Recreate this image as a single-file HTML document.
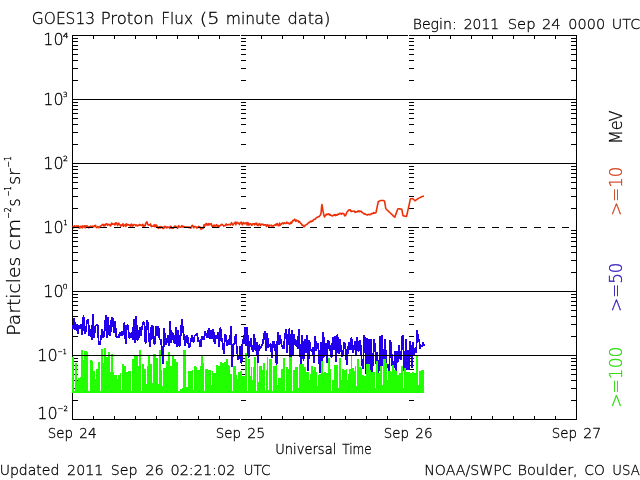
<!DOCTYPE html>
<html><head><meta charset="utf-8"><style>
html,body{margin:0;padding:0;background:#fff;width:640px;height:480px;overflow:hidden}
svg{display:block}
text{font-family:"DejaVu Sans","Liberation Sans",sans-serif;font-weight:200;fill:#000;stroke:#000;stroke-width:0.3px}
</style></head><body>
<svg width="640" height="480" viewBox="0 0 640 480">
<rect width="640" height="480" fill="#fff"/>
<path d="M72,35.5H240M241,35.5H408M409,35.5H577M72,419.5H240M241,419.5H408M409,419.5H577M72.5,35V420M576.5,35V420" stroke="#000" stroke-width="1" fill="none" shape-rendering="crispEdges"/>
<path d="M72,400.5h6M571,400.5h5M72,388.5h6M571,388.5h5M72,380.5h6M571,380.5h5M72,374.5h6M571,374.5h5M72,369.5h6M571,369.5h5M72,365.5h6M571,365.5h5M72,361.5h6M571,361.5h5M72,358.5h6M571,358.5h5M72,336.5h6M571,336.5h5M72,324.5h6M571,324.5h5M72,316.5h6M571,316.5h5M72,310.5h6M571,310.5h5M72,305.5h6M571,305.5h5M72,301.5h6M571,301.5h5M72,297.5h6M571,297.5h5M72,294.5h6M571,294.5h5M72,272.5h6M571,272.5h5M72,260.5h6M571,260.5h5M72,252.5h6M571,252.5h5M72,246.5h6M571,246.5h5M72,241.5h6M571,241.5h5M72,237.5h6M571,237.5h5M72,233.5h6M571,233.5h5M72,230.5h6M571,230.5h5M72,208.5h6M571,208.5h5M72,196.5h6M571,196.5h5M72,188.5h6M571,188.5h5M72,182.5h6M571,182.5h5M72,177.5h6M571,177.5h5M72,173.5h6M571,173.5h5M72,169.5h6M571,169.5h5M72,166.5h6M571,166.5h5M72,144.5h6M571,144.5h5M72,132.5h6M571,132.5h5M72,124.5h6M571,124.5h5M72,118.5h6M571,118.5h5M72,113.5h6M571,113.5h5M72,109.5h6M571,109.5h5M72,105.5h6M571,105.5h5M72,102.5h6M571,102.5h5M72,80.5h6M571,80.5h5M72,68.5h6M571,68.5h5M72,60.5h6M571,60.5h5M72,54.5h6M571,54.5h5M72,49.5h6M571,49.5h5M72,45.5h6M571,45.5h5M72,41.5h6M571,41.5h5M72,38.5h6M571,38.5h5M93.5,36v3M93.5,419v-3M114.5,36v3M114.5,419v-3M135.5,36v3M135.5,419v-3M156.5,36v3M156.5,419v-3M177.5,36v3M177.5,419v-3M198.5,36v3M198.5,419v-3M219.5,36v3M219.5,419v-3M261.5,36v3M261.5,419v-3M282.5,36v3M282.5,419v-3M303.5,36v3M303.5,419v-3M324.5,36v3M324.5,419v-3M345.5,36v3M345.5,419v-3M366.5,36v3M366.5,419v-3M387.5,36v3M387.5,419v-3M429.5,36v3M429.5,419v-3M450.5,36v3M450.5,419v-3M471.5,36v3M471.5,419v-3M492.5,36v3M492.5,419v-3M513.5,36v3M513.5,419v-3M534.5,36v3M534.5,419v-3M555.5,36v3M555.5,419v-3" stroke="#000" stroke-width="1" fill="none" shape-rendering="crispEdges"/>
<path d="M241,400.5h5M409,400.5h5M241,388.5h5M409,388.5h5M241,380.5h5M409,380.5h5M241,374.5h5M409,374.5h5M241,369.5h5M409,369.5h5M241,365.5h5M409,365.5h5M241,361.5h5M409,361.5h5M241,358.5h5M409,358.5h5M241,336.5h5M409,336.5h5M241,324.5h5M409,324.5h5M241,316.5h5M409,316.5h5M241,310.5h5M409,310.5h5M241,305.5h5M409,305.5h5M241,301.5h5M409,301.5h5M241,297.5h5M409,297.5h5M241,294.5h5M409,294.5h5M241,272.5h5M409,272.5h5M241,260.5h5M409,260.5h5M241,252.5h5M409,252.5h5M241,246.5h5M409,246.5h5M241,241.5h5M409,241.5h5M241,237.5h5M409,237.5h5M241,233.5h5M409,233.5h5M241,230.5h5M409,230.5h5M241,208.5h5M409,208.5h5M241,196.5h5M409,196.5h5M241,188.5h5M409,188.5h5M241,182.5h5M409,182.5h5M241,177.5h5M409,177.5h5M241,173.5h5M409,173.5h5M241,169.5h5M409,169.5h5M241,166.5h5M409,166.5h5M241,144.5h5M409,144.5h5M241,132.5h5M409,132.5h5M241,124.5h5M409,124.5h5M241,118.5h5M409,118.5h5M241,113.5h5M409,113.5h5M241,109.5h5M409,109.5h5M241,105.5h5M409,105.5h5M241,102.5h5M409,102.5h5M241,80.5h5M409,80.5h5M241,68.5h5M409,68.5h5M241,60.5h5M409,60.5h5M241,54.5h5M409,54.5h5M241,49.5h5M409,49.5h5M241,45.5h5M409,45.5h5M241,41.5h5M409,41.5h5M241,38.5h5M409,38.5h5M241,419.5h10M409,419.5h10M241,355.5h10M409,355.5h10M241,291.5h10M409,291.5h10M241,227.5h10M409,227.5h10M241,163.5h10M409,163.5h10M241,99.5h10M409,99.5h10M241,35.5h10M409,35.5h10" stroke="#000" stroke-width="1" fill="none" shape-rendering="crispEdges"/>
<path d="M72.0,227.0 L72.6,227.3 L73.2,226.7 L73.8,227.8 L74.4,225.8 L75.0,226.3 L75.6,226.3 L76.2,227.4 L76.8,225.8 L77.4,227.1 L78.0,225.8 L78.6,226.4 L79.2,228.0 L79.8,228.0 L80.0,227.2 L80.4,226.4 L81.0,227.2 L81.6,226.4 L82.2,228.0 L82.8,225.8 L83.4,226.3 L84.0,227.1 L84.6,225.8 L85.2,227.9 L85.8,225.8 L86.4,227.1 L87.0,225.8 L87.6,226.7 L88.2,227.0 L88.8,227.8 L89.4,226.7 L90.0,227.0 L90.6,226.1 L91.2,226.9 L91.8,226.5 L92.4,226.0 L93.0,226.7 L93.6,226.9 L94.2,225.8 L94.8,225.7 L95.0,226.5 L95.4,225.2 L96.0,226.5 L96.6,227.7 L97.2,227.2 L97.8,226.7 L98.4,227.7 L99.0,227.6 L99.6,226.6 L100.0,226.3 L100.2,226.2 L100.8,225.9 L101.4,225.4 L102.0,225.4 L102.6,224.3 L103.2,224.9 L103.8,225.9 L104.0,224.5 L104.4,224.8 L105.0,225.8 L105.6,224.5 L106.2,223.7 L106.8,223.7 L107.4,225.3 L108.0,224.5 L108.6,224.3 L109.2,225.0 L109.8,224.5 L110.0,224.8 L110.4,226.0 L111.0,225.3 L111.6,223.1 L112.2,223.4 L112.8,224.3 L113.4,224.1 L114.0,224.0 L114.6,224.8 L115.0,223.4 L115.2,224.8 L115.8,222.8 L116.4,223.0 L117.0,224.0 L117.6,225.4 L118.2,223.5 L118.8,223.2 L119.4,224.6 L120.0,224.8 L120.6,226.1 L121.2,224.9 L121.8,225.7 L122.4,225.3 L123.0,223.7 L123.6,226.4 L124.2,225.4 L124.8,224.9 L125.0,225.2 L125.4,224.4 L126.0,226.4 L126.6,223.8 L127.2,225.0 L127.8,225.0 L128.4,224.6 L129.0,224.9 L129.6,225.6 L130.0,224.8 L130.2,225.6 L130.8,226.1 L131.4,224.0 L132.0,224.5 L132.6,226.1 L133.2,225.6 L133.8,224.8 L134.4,224.5 L135.0,224.8 L135.6,225.6 L136.2,224.9 L136.8,225.7 L137.4,225.3 L138.0,225.8 L138.6,225.1 L139.2,224.8 L139.8,224.4 L140.0,225.2 L140.4,225.0 L141.0,225.0 L141.6,225.4 L142.2,225.5 L142.8,224.3 L143.4,227.0 L144.0,225.5 L144.6,225.8 L145.0,225.9 L145.2,225.5 L145.8,223.0 L146.4,222.7 L147.0,221.8 L147.6,224.2 L148.0,224.5 L148.2,224.9 L148.8,225.1 L149.4,224.7 L150.0,225.2 L150.6,223.9 L151.2,226.6 L151.8,226.1 L152.4,226.1 L153.0,226.2 L153.6,226.2 L154.2,224.7 L154.8,226.8 L155.0,225.5 L155.4,226.5 L156.0,224.7 L156.6,226.4 L157.2,225.9 L157.8,227.0 L158.0,227.1 L158.4,228.5 L159.0,227.1 L159.6,226.7 L160.2,228.0 L160.8,226.6 L161.4,227.3 L162.0,226.9 L162.6,228.1 L163.0,228.5 L163.2,227.6 L163.8,228.3 L164.4,226.4 L165.0,227.3 L165.6,226.5 L166.2,227.2 L166.8,228.0 L167.4,226.9 L168.0,227.1 L168.6,227.4 L169.2,227.3 L169.8,228.3 L170.0,227.0 L170.4,226.2 L171.0,226.2 L171.6,228.3 L172.2,228.3 L172.8,228.3 L173.4,228.3 L174.0,227.0 L174.6,226.2 L175.2,226.7 L175.8,226.2 L176.4,227.3 L177.0,227.0 L177.6,228.3 L178.2,226.7 L178.8,225.7 L179.4,227.0 L180.0,227.0 L180.6,227.3 L181.2,226.7 L181.8,225.7 L182.4,227.0 L183.0,226.2 L183.6,227.0 L184.2,227.3 L184.8,226.7 L185.4,227.3 L186.0,227.0 L186.6,227.3 L187.2,227.0 L187.8,227.0 L188.4,227.0 L189.0,227.8 L189.6,227.0 L190.0,227.0 L190.2,227.0 L190.8,228.2 L191.4,227.2 L192.0,225.5 L192.6,225.4 L193.2,226.7 L193.8,227.9 L194.4,226.6 L195.0,226.5 L195.6,226.6 L196.2,227.0 L196.8,228.2 L197.4,227.3 L198.0,227.4 L198.6,226.4 L199.2,227.3 L199.8,226.7 L200.0,227.5 L200.4,227.7 L201.0,229.3 L201.6,228.3 L202.0,228.5 L202.2,228.6 L202.8,227.5 L203.4,228.1 L204.0,224.7 L204.6,226.6 L205.0,224.8 L205.2,225.0 L205.8,223.8 L206.4,223.6 L207.0,225.1 L207.6,224.1 L208.0,224.0 L208.2,225.3 L208.8,223.7 L209.4,224.7 L210.0,223.9 L210.6,224.5 L211.2,223.7 L211.8,225.7 L212.4,226.5 L213.0,225.5 L213.6,226.5 L214.2,225.1 L214.8,225.8 L215.0,226.2 L215.4,225.9 L216.0,225.8 L216.6,224.7 L217.2,225.7 L217.8,227.2 L218.4,225.6 L219.0,227.1 L219.6,226.0 L220.0,225.7 L220.2,225.4 L220.8,225.4 L221.4,224.3 L222.0,224.3 L222.6,224.8 L223.2,225.3 L223.8,226.3 L224.4,225.5 L225.0,225.5 L225.6,225.4 L226.2,223.9 L226.8,225.1 L227.4,224.9 L228.0,224.8 L228.6,224.6 L229.2,224.8 L229.8,224.3 L230.0,224.3 L230.4,225.0 L231.0,223.8 L231.6,222.7 L232.2,224.2 L232.8,225.1 L233.4,224.5 L234.0,223.3 L234.6,223.2 L235.0,223.4 L235.2,222.1 L235.8,224.7 L236.4,223.1 L237.0,222.1 L237.6,223.0 L238.2,223.0 L238.8,223.0 L239.4,224.6 L240.0,223.3 L240.6,222.6 L241.2,222.1 L241.8,223.8 L242.4,224.8 L243.0,222.8 L243.6,222.4 L244.2,223.7 L244.8,223.8 L245.0,223.8 L245.4,223.8 L246.0,222.5 L246.6,223.0 L247.2,225.1 L247.8,222.6 L248.4,223.1 L249.0,225.2 L249.6,224.2 L250.0,223.9 L250.2,223.9 L250.8,223.9 L251.4,225.1 L252.0,225.1 L252.6,223.7 L253.2,223.7 L253.8,223.7 L254.4,224.9 L255.0,223.6 L255.6,223.4 L256.2,224.7 L256.8,223.2 L257.4,224.9 L258.0,225.6 L258.6,224.7 L259.2,223.7 L259.8,224.7 L260.0,224.7 L260.4,225.5 L261.0,224.0 L261.6,224.8 L262.2,224.8 L262.8,224.1 L263.4,224.6 L264.0,225.2 L264.6,224.7 L265.0,225.0 L265.2,225.0 L265.8,224.8 L266.4,226.5 L267.0,225.2 L267.6,224.5 L268.2,226.2 L268.8,226.8 L269.4,225.2 L270.0,225.6 L270.6,225.5 L271.2,225.2 L271.8,226.2 L272.4,226.1 L273.0,225.5 L273.6,226.0 L274.2,225.1 L274.8,225.3 L275.0,225.0 L275.4,225.2 L276.0,224.1 L276.6,225.1 L277.2,223.4 L277.8,224.9 L278.4,225.8 L279.0,225.7 L279.6,223.1 L280.0,224.3 L280.2,225.1 L280.8,224.5 L281.4,224.1 L282.0,223.2 L282.6,223.1 L283.2,223.8 L283.8,222.9 L284.4,222.8 L285.0,223.5 L285.6,223.5 L286.2,223.4 L286.8,222.1 L287.4,223.1 L288.0,223.3 L288.6,223.0 L289.2,224.0 L289.8,223.2 L290.0,223.2 L290.4,223.7 L291.0,222.2 L291.6,223.3 L292.2,221.9 L292.8,220.4 L293.4,220.7 L294.0,220.3 L294.6,219.1 L295.2,220.2 L295.8,221.3 L296.4,220.0 L297.0,220.7 L297.6,221.0 L298.2,220.8 L298.8,222.3 L299.4,221.5 L300.0,222.4 L300.6,223.2 L301.2,223.4 L301.8,225.0 L302.0,225.0 L302.4,225.1 L303.0,225.3 L303.6,226.5 L304.0,226.9 L304.2,226.1 L304.8,226.1 L305.4,225.0 L306.0,225.0 L306.6,224.5 L307.2,224.3 L307.8,223.4 L308.4,222.9 L309.0,222.4 L309.6,222.4 L310.2,221.6 L310.8,221.0 L311.4,221.7 L312.0,221.1 L312.6,221.3 L313.2,220.1 L313.8,219.4 L314.4,219.4 L315.0,219.3 L315.6,218.8 L316.2,217.8 L316.8,217.6 L317.4,217.2 L318.0,217.0 L318.6,216.5 L319.2,216.7 L319.8,215.7 L320.0,215.5 L320.4,214.9 L321.0,213.3 L321.5,208.0 L321.6,206.8 L321.9,204.5 L322.2,206.0 L322.4,207.0 L322.8,209.7 L323.0,211.0 L323.4,212.9 L324.0,215.6 L324.5,217.0 L324.6,216.5 L325.2,216.0 L325.8,215.1 L326.0,214.8 L326.4,214.1 L327.0,214.7 L327.6,214.0 L328.2,214.0 L328.8,213.9 L329.4,215.1 L330.0,214.4 L330.6,215.1 L331.2,215.5 L331.8,215.4 L332.0,215.8 L332.4,216.0 L333.0,215.6 L333.6,215.1 L334.2,215.2 L334.8,214.5 L335.4,215.6 L336.0,214.8 L336.6,215.2 L337.2,214.4 L337.8,214.8 L338.4,214.0 L339.0,214.1 L339.6,213.5 L340.0,213.4 L340.2,213.7 L340.8,213.5 L341.4,214.2 L342.0,213.3 L342.6,213.4 L343.2,213.8 L343.8,213.6 L344.0,213.9 L344.4,215.3 L345.0,216.0 L345.6,215.4 L346.2,214.2 L346.8,212.1 L347.0,212.0 L347.4,211.6 L348.0,211.1 L348.6,210.0 L349.0,210.2 L349.2,210.0 L349.8,209.8 L350.4,210.0 L351.0,211.4 L351.6,211.6 L352.0,211.1 L352.2,211.2 L352.8,211.3 L353.4,211.2 L354.0,211.1 L354.6,211.3 L355.0,212.0 L355.2,212.5 L355.8,211.8 L356.4,211.9 L357.0,212.0 L357.6,211.2 L358.0,211.1 L358.2,211.4 L358.8,210.8 L359.4,211.7 L360.0,211.1 L360.6,211.5 L361.2,211.3 L361.8,212.4 L362.0,212.5 L362.4,212.5 L363.0,212.9 L363.6,213.6 L364.0,213.9 L364.2,214.0 L364.8,213.5 L365.4,214.3 L366.0,214.5 L366.6,214.7 L367.0,214.8 L367.2,215.1 L367.8,214.8 L368.4,214.5 L369.0,214.2 L369.6,214.8 L370.0,214.8 L370.2,214.4 L370.8,214.4 L371.4,213.8 L372.0,213.3 L372.6,213.6 L373.0,213.4 L373.2,213.4 L373.8,212.6 L374.4,213.1 L375.0,213.0 L375.6,212.7 L376.0,212.5 L376.2,211.6 L376.8,208.7 L377.4,205.9 L378.0,203.0 L378.3,201.6 L378.6,201.5 L379.2,201.2 L379.8,200.9 L380.4,200.6 L380.7,200.5 L381.0,200.5 L381.6,200.5 L382.2,200.5 L382.8,200.5 L383.4,200.5 L383.8,200.5 L384.0,200.7 L384.6,201.5 L384.6,201.5 L385.2,205.1 L385.8,208.7 L386.4,209.3 L387.0,209.8 L387.6,210.4 L388.2,211.0 L388.8,211.6 L389.4,212.1 L390.0,212.7 L390.6,213.3 L391.2,213.9 L391.8,214.4 L392.4,215.0 L393.0,215.6 L393.6,216.2 L394.2,216.7 L394.8,217.2 L394.8,217.1 L395.4,215.5 L396.0,213.9 L396.6,212.2 L397.2,210.6 L397.8,209.0 L397.9,208.7 L398.4,208.8 L399.0,208.8 L399.6,208.9 L400.2,209.0 L400.8,209.1 L401.4,209.1 L401.8,209.2 L402.0,210.3 L402.6,213.5 L403.0,215.7 L403.2,215.7 L403.8,215.9 L404.4,216.0 L405.0,216.2 L405.6,216.3 L406.2,216.4 L406.5,216.5 L406.8,215.2 L407.4,212.5 L408.0,209.8 L408.6,207.2 L408.8,206.3 L409.2,204.5 L409.8,201.7 L410.4,198.9 L411.0,198.8 L411.6,198.7 L412.2,198.6 L412.7,198.5 L412.8,198.6 L413.4,199.2 L414.0,199.8 L414.6,200.4 L415.0,200.8 L415.2,200.7 L415.8,200.2 L416.4,199.8 L417.0,199.4 L417.6,198.9 L418.2,198.5 L418.8,198.2 L419.4,197.9 L420.0,197.6 L420.6,197.3 L421.2,197.0 L421.8,196.7 L422.4,196.4 L422.9,196.2 L423.0,196.2 L423.6,196.2 L424.0,196.2" stroke="#ee3008" stroke-width="1.6" fill="none" stroke-linejoin="round"/>
<path d="M73.00,328.7L74.17,318.0L75.34,329.7L76.51,324.0L77.68,333.4L78.85,325.0L80.02,328.7L81.19,324.0L82.36,335.0L83.53,315.2L84.70,334.0L85.87,330.6L87.04,320.2L88.21,319.4L89.38,336.0L90.55,328.7L91.72,340.0L92.89,314.2L94.06,338.0L95.23,326.3L96.40,325.0L97.57,324.0L98.74,343.6L99.91,344.7L101.08,337.0L102.25,328.7L103.42,338.0L104.59,331.6L105.76,315.2L106.93,338.0L108.10,317.5L109.27,335.0L110.44,334.9L111.61,317.5L112.78,319.0L113.95,333.4L115.12,321.0L116.29,337.0L117.46,336.3L118.63,337.6L119.80,332.5L120.97,336.2L122.14,331.6L123.31,335.3L124.48,322.2L125.65,343.7L126.82,325.0L127.99,326.0L129.16,337.2L130.33,338.0L131.50,332.5L132.67,340.0L133.84,319.0L135.01,343.0L136.18,316.0L137.35,340.0L138.52,339.2L139.69,326.7L140.86,335.8L142.03,327.6L143.20,322.0L144.37,323.1L145.54,344.0L146.71,320.0L147.88,322.5L149.05,339.9L150.22,347.0L151.39,327.6L152.56,325.0L153.73,344.0L154.90,343.0L156.07,326.3L157.24,336.2L158.41,326.0L159.58,340.0L160.75,339.2L161.92,349.0L163.09,363.5L164.26,328.0L165.43,345.0L166.60,343.1L167.77,335.5L168.94,346.0L170.11,321.0L171.28,342.6L172.45,331.7L173.62,339.6L174.79,344.0L175.96,327.0L177.13,347.0L178.30,330.0L179.47,347.0L180.64,335.9L181.81,319.0L182.98,329.3L184.15,338.5L185.32,346.0L186.49,335.0L187.66,337.1L188.83,348.0L190.00,346.0L191.17,338.9L192.34,335.0L193.51,342.7L194.68,335.5L195.85,334.7L197.02,333.0L198.19,342.0L199.36,340.0L200.53,347.3L201.70,336.0L202.87,339.4L204.04,338.9L205.21,331.1L206.38,335.5L207.55,338.2L208.72,327.8L209.89,338.6L211.06,330.6L212.23,338.7L213.40,329.0L214.57,344.0L215.74,335.7L216.91,339.0L218.08,332.5L219.25,347.3L220.42,327.3L221.59,337.9L222.76,343.6L223.93,354.4L225.10,334.0L226.27,337.4L227.44,346.0L228.61,339.4L229.78,345.0L230.95,326.4L232.12,366.5L233.29,343.8L234.46,345.1L235.63,334.4L236.80,347.8L237.97,360.0L239.14,357.5L240.31,346.2L241.48,363.7L242.65,339.0L243.82,343.8L244.99,327.3L246.16,346.0L247.33,327.0L248.50,358.0L249.67,346.3L250.84,338.0L252.01,348.7L253.18,351.6L254.35,334.4L255.52,351.3L256.69,341.9L257.86,362.8L259.03,344.7L260.20,348.7L261.37,346.0L262.54,344.5L263.71,337.0L264.88,331.0L266.05,350.6L267.22,333.4L268.39,347.8L269.56,344.5L270.73,344.2L271.90,358.0L273.07,341.7L274.24,341.3L275.41,350.6L276.58,365.6L277.75,332.0L278.92,345.0L280.09,335.0L281.26,343.7L282.43,346.9L283.60,348.7L284.77,337.9L285.94,329.2L287.11,352.5L288.28,335.1L289.45,328.3L290.62,367.5L291.79,330.0L292.96,356.2L294.13,334.4L295.30,345.4L296.47,340.0L297.64,348.7L298.81,329.2L299.98,351.6L301.15,364.7L302.32,335.0L303.49,361.0L304.66,339.4L305.83,353.0L307.00,335.0L308.17,371.0L309.34,340.3L310.51,348.7L311.68,352.0L312.85,346.9L314.02,363.4L315.19,336.0L316.36,350.5L317.53,343.0L318.70,351.0L319.87,372.8L321.04,342.0L322.21,371.0L323.38,332.3L324.55,357.0L325.72,343.0L326.89,362.5L328.06,340.3L329.23,342.7L330.40,351.2L331.57,357.8L332.74,337.5L333.91,350.3L335.08,336.0L336.25,361.6L337.42,334.2L338.59,354.0L339.76,339.0L340.93,347.7L342.10,357.0L343.27,351.2L344.44,342.2L345.61,349.1L346.78,365.3L347.95,349.0L349.12,342.2L350.29,350.3L351.46,337.0L352.63,353.0L353.80,349.4L354.97,341.2L356.14,356.0L357.31,337.5L358.48,352.2L359.65,340.3L360.82,345.6L361.99,364.4L363.16,369.0L364.16,334.9L365.16,340.0L366.16,373.8L367.16,338.3L368.16,364.8L369.16,338.6L370.16,370.4L371.16,339.0L372.16,372.7L373.16,358.3L374.16,339.5L375.16,347.5L376.16,363.5L377.16,352.0L378.16,372.7L379.16,368.3L380.16,336.0L381.16,368.0L382.16,335.5L383.16,365.8L384.16,352.8L385.16,339.5L386.16,363.7L387.16,368.0L388.16,364.1L389.16,372.0L390.16,340.0L391.16,344.0L392.16,364.9L393.16,370.4L394.16,364.3L395.16,351.5L396.16,373.8L397.16,350.7L398.16,361.6L399.16,345.2L400.16,358.4L401.16,360.0L402.16,337.2L403.16,334.9L404.16,370.4L405.16,370.4L406.16,339.5L407.16,370.4L408.16,349.7L409.16,369.7L410.16,341.2L411.16,350.2L412.16,368.0L413.16,341.8L414.16,354.4L415.16,350.9L416.16,353.0L417.16,330.3L418.16,339.7L419.16,339.5L420.16,348.6L421.16,345.7L422.16,346.3L423.16,342.3L424.16,346.2" fill="none" stroke="#2200ee" stroke-width="1.8" stroke-linejoin="bevel" shape-rendering="crispEdges"/>
<path d="M72,356.5h1V393h-1zM73,356.5h1V393h-1zM74,391.0h1V393h-1zM75,363.0h1V393h-1zM76,363.0h1V393h-1zM77,381.0h1V393h-1zM78,378.0h1V393h-1zM79,378.0h1V393h-1zM80,377.0h1V393h-1zM81,350.0h1V393h-1zM82,350.0h1V393h-1zM83,359.6h1V393h-1zM84,351.0h1V393h-1zM85,351.0h1V393h-1zM86,351.0h1V393h-1zM87,351.5h1V393h-1zM88,391.0h1V393h-1zM89,391.0h1V393h-1zM90,360.0h1V393h-1zM91,360.0h1V393h-1zM92,361.0h1V393h-1zM93,371.0h1V393h-1zM94,371.0h1V393h-1zM95,379.0h1V393h-1zM96,369.0h1V393h-1zM97,369.0h1V393h-1zM98,362.0h1V393h-1zM99,362.0h1V393h-1zM100,391.0h1V393h-1zM101,349.2h1V393h-1zM102,349.2h1V393h-1zM103,363.0h1V393h-1zM104,348.0h1V393h-1zM105,348.0h1V393h-1zM106,357.0h1V393h-1zM107,357.0h1V393h-1zM108,351.8h1V393h-1zM109,351.8h1V393h-1zM110,372.0h1V393h-1zM111,354.4h1V393h-1zM112,354.4h1V393h-1zM113,372.0h1V393h-1zM114,375.0h1V393h-1zM115,375.0h1V393h-1zM116,375.0h1V393h-1zM117,379.0h1V393h-1zM118,375.0h1V393h-1zM119,375.0h1V393h-1zM120,373.0h1V393h-1zM121,390.0h1V393h-1zM122,364.3h1V393h-1zM123,364.3h1V393h-1zM124,366.4h1V393h-1zM125,366.4h1V393h-1zM126,372.0h1V393h-1zM127,372.0h1V393h-1zM128,371.0h1V393h-1zM129,371.0h1V393h-1zM130,371.0h1V393h-1zM131,391.0h1V393h-1zM132,359.0h1V393h-1zM133,359.0h1V393h-1zM134,356.0h1V393h-1zM135,356.0h1V393h-1zM136,356.0h1V393h-1zM137,356.0h1V393h-1zM138,365.8h1V393h-1zM139,350.2h1V393h-1zM140,350.2h1V393h-1zM141,391.0h1V393h-1zM142,364.3h1V393h-1zM143,364.3h1V393h-1zM144,369.0h1V393h-1zM145,369.0h1V393h-1zM146,384.0h1V393h-1zM147,365.8h1V393h-1zM148,356.0h1V393h-1zM149,356.0h1V393h-1zM150,364.3h1V393h-1zM151,364.3h1V393h-1zM152,382.5h1V393h-1zM153,354.4h1V393h-1zM154,354.4h1V393h-1zM155,354.4h1V393h-1zM156,357.5h1V393h-1zM157,357.5h1V393h-1zM158,384.0h1V393h-1zM159,350.2h1V393h-1zM160,350.2h1V393h-1zM161,370.0h1V393h-1zM162,386.0h1V393h-1zM163,368.0h1V393h-1zM164,368.0h1V393h-1zM165,368.0h1V393h-1zM166,360.6h1V393h-1zM167,360.6h1V393h-1zM168,352.3h1V393h-1zM169,352.3h1V393h-1zM170,365.8h1V393h-1zM171,365.8h1V393h-1zM172,356.0h1V393h-1zM173,356.0h1V393h-1zM174,359.0h1V393h-1zM175,359.0h1V393h-1zM176,362.0h1V393h-1zM177,362.0h1V393h-1zM178,390.8h1V393h-1zM179,390.8h1V393h-1zM180,388.8h1V393h-1zM181,388.8h1V393h-1zM182,388.0h1V393h-1zM183,350.2h1V393h-1zM184,350.2h1V393h-1zM185,350.2h1V393h-1zM186,386.7h1V393h-1zM187,386.7h1V393h-1zM188,371.0h1V393h-1zM189,371.0h1V393h-1zM190,371.0h1V393h-1zM191,371.0h1V393h-1zM192,370.0h1V393h-1zM193,390.0h1V393h-1zM194,366.4h1V393h-1zM195,366.4h1V393h-1zM196,367.4h1V393h-1zM197,370.0h1V393h-1zM198,370.0h1V393h-1zM199,370.0h1V393h-1zM200,366.4h1V393h-1zM201,356.0h1V393h-1zM202,356.0h1V393h-1zM203,363.2h1V393h-1zM204,391.0h1V393h-1zM205,369.0h1V393h-1zM206,369.0h1V393h-1zM207,369.0h1V393h-1zM208,370.0h1V393h-1zM209,370.0h1V393h-1zM210,370.0h1V393h-1zM211,385.0h1V393h-1zM212,371.0h1V393h-1zM213,373.0h1V393h-1zM214,373.0h1V393h-1zM215,373.0h1V393h-1zM216,365.3h1V393h-1zM217,365.3h1V393h-1zM218,366.4h1V393h-1zM219,366.4h1V393h-1zM220,362.2h1V393h-1zM221,362.2h1V393h-1zM222,363.2h1V393h-1zM223,363.2h1V393h-1zM224,361.7h1V393h-1zM225,361.7h1V393h-1zM226,359.0h1V393h-1zM227,359.0h1V393h-1zM228,365.3h1V393h-1zM229,365.8h1V393h-1zM230,374.0h1V393h-1zM231,374.0h1V393h-1zM232,391.0h1V393h-1zM233,366.4h1V393h-1zM234,366.4h1V393h-1zM235,366.4h1V393h-1zM236,375.0h1V393h-1zM237,379.4h1V393h-1zM238,372.0h1V393h-1zM239,372.0h1V393h-1zM240,371.0h1V393h-1zM241,371.0h1V393h-1zM242,376.0h1V393h-1zM243,376.0h1V393h-1zM244,376.0h1V393h-1zM245,352.8h1V393h-1zM246,352.8h1V393h-1zM247,391.0h1V393h-1zM248,358.5h1V393h-1zM249,358.5h1V393h-1zM250,376.0h1V393h-1zM251,367.4h1V393h-1zM252,380.0h1V393h-1zM253,367.4h1V393h-1zM254,357.0h1V393h-1zM255,357.0h1V393h-1zM256,391.0h1V393h-1zM257,362.7h1V393h-1zM258,382.0h1V393h-1zM259,365.8h1V393h-1zM260,365.8h1V393h-1zM261,365.8h1V393h-1zM262,370.0h1V393h-1zM263,363.0h1V393h-1zM264,363.0h1V393h-1zM265,391.0h1V393h-1zM266,370.0h1V393h-1zM267,356.5h1V393h-1zM268,390.0h1V393h-1zM269,358.5h1V393h-1zM270,358.5h1V393h-1zM271,358.5h1V393h-1zM272,391.0h1V393h-1zM273,365.8h1V393h-1zM274,365.8h1V393h-1zM275,365.8h1V393h-1zM276,364.8h1V393h-1zM277,385.0h1V393h-1zM278,378.0h1V393h-1zM279,378.0h1V393h-1zM280,378.0h1V393h-1zM281,369.0h1V393h-1zM282,369.0h1V393h-1zM283,357.5h1V393h-1zM284,357.5h1V393h-1zM285,391.0h1V393h-1zM286,366.9h1V393h-1zM287,366.9h1V393h-1zM288,369.0h1V393h-1zM289,356.5h1V393h-1zM290,356.5h1V393h-1zM291,356.5h1V393h-1zM292,391.0h1V393h-1zM293,370.0h1V393h-1zM294,370.0h1V393h-1zM295,367.4h1V393h-1zM296,367.4h1V393h-1zM297,367.4h1V393h-1zM298,388.0h1V393h-1zM299,364.3h1V393h-1zM300,364.3h1V393h-1zM301,364.3h1V393h-1zM302,363.8h1V393h-1zM303,363.8h1V393h-1zM304,366.9h1V393h-1zM305,366.9h1V393h-1zM306,372.0h1V393h-1zM307,372.0h1V393h-1zM308,372.0h1V393h-1zM309,380.0h1V393h-1zM310,374.0h1V393h-1zM311,366.4h1V393h-1zM312,366.4h1V393h-1zM313,369.5h1V393h-1zM314,366.9h1V393h-1zM315,366.9h1V393h-1zM316,372.0h1V393h-1zM317,386.0h1V393h-1zM318,375.0h1V393h-1zM319,374.0h1V393h-1zM320,374.0h1V393h-1zM321,361.0h1V393h-1zM322,361.0h1V393h-1zM323,373.0h1V393h-1zM324,372.0h1V393h-1zM325,372.0h1V393h-1zM326,373.0h1V393h-1zM327,373.0h1V393h-1zM328,358.0h1V393h-1zM329,358.0h1V393h-1zM330,369.0h1V393h-1zM331,391.0h1V393h-1zM332,380.4h1V393h-1zM333,380.4h1V393h-1zM334,365.3h1V393h-1zM335,365.3h1V393h-1zM336,365.3h1V393h-1zM337,365.3h1V393h-1zM338,388.0h1V393h-1zM339,357.5h1V393h-1zM340,357.5h1V393h-1zM341,380.0h1V393h-1zM342,369.0h1V393h-1zM343,369.0h1V393h-1zM344,369.5h1V393h-1zM345,369.5h1V393h-1zM346,369.0h1V393h-1zM347,380.0h1V393h-1zM348,374.0h1V393h-1zM349,369.0h1V393h-1zM350,369.0h1V393h-1zM351,355.4h1V393h-1zM352,368.0h1V393h-1zM353,368.0h1V393h-1zM354,371.0h1V393h-1zM355,366.4h1V393h-1zM356,386.0h1V393h-1zM357,359.0h1V393h-1zM358,359.0h1V393h-1zM359,366.9h1V393h-1zM360,366.9h1V393h-1zM361,368.0h1V393h-1zM362,375.0h1V393h-1zM363,375.0h1V393h-1zM364,376.0h1V393h-1zM365,376.0h1V393h-1zM366,364.3h1V393h-1zM367,364.3h1V393h-1zM368,364.3h1V393h-1zM369,364.3h1V393h-1zM370,370.0h1V393h-1zM371,372.0h1V393h-1zM372,372.0h1V393h-1zM373,371.6h1V393h-1zM374,371.6h1V393h-1zM375,388.0h1V393h-1zM376,360.6h1V393h-1zM377,360.6h1V393h-1zM378,373.0h1V393h-1zM379,373.0h1V393h-1zM380,365.8h1V393h-1zM381,365.8h1V393h-1zM382,385.0h1V393h-1zM383,359.0h1V393h-1zM384,359.0h1V393h-1zM385,359.0h1V393h-1zM386,363.2h1V393h-1zM387,380.0h1V393h-1zM388,371.0h1V393h-1zM389,371.0h1V393h-1zM390,371.0h1V393h-1zM391,371.6h1V393h-1zM392,365.3h1V393h-1zM393,365.3h1V393h-1zM394,370.0h1V393h-1zM395,370.0h1V393h-1zM396,371.0h1V393h-1zM397,375.0h1V393h-1zM398,375.0h1V393h-1zM399,373.0h1V393h-1zM400,373.0h1V393h-1zM401,365.8h1V393h-1zM402,365.8h1V393h-1zM403,388.0h1V393h-1zM404,368.4h1V393h-1zM405,368.4h1V393h-1zM406,372.0h1V393h-1zM407,372.0h1V393h-1zM408,371.6h1V393h-1zM409,371.6h1V393h-1zM410,373.0h1V393h-1zM411,373.0h1V393h-1zM412,372.0h1V393h-1zM413,372.0h1V393h-1zM414,373.0h1V393h-1zM415,373.0h1V393h-1zM416,355.4h1V393h-1zM417,355.4h1V393h-1zM418,385.0h1V393h-1zM419,371.0h1V393h-1zM420,371.0h1V393h-1zM421,370.0h1V393h-1zM422,370.0h1V393h-1zM423,370.0h1V393h-1z" fill="#22ff00" shape-rendering="crispEdges"/>
<path d="M72,227.5H577" stroke="#000" stroke-width="1" stroke-dasharray="7 7" fill="none" shape-rendering="crispEdges"/>
<path d="M72,99.5H577M72,163.5H577M72,291.5H577M72,355.5H577" stroke="#000" stroke-width="1" fill="none" shape-rendering="crispEdges"/>
<text x="31.79" y="23.50" font-size="16" textLength="63.27" lengthAdjust="spacingAndGlyphs">GOES13</text>
<text x="100.70" y="23.50" font-size="16" textLength="53.20" lengthAdjust="spacingAndGlyphs">Proton</text>
<text x="161.34" y="23.50" font-size="16" textLength="31.59" lengthAdjust="spacingAndGlyphs">Flux</text>
<text x="199.80" y="23.50" font-size="16" textLength="19.71" lengthAdjust="spacingAndGlyphs">(5</text>
<text x="225.80" y="23.50" font-size="16" textLength="54.71" lengthAdjust="spacingAndGlyphs">minute</text>
<text x="287.49" y="23.50" font-size="16" textLength="42.87" lengthAdjust="spacingAndGlyphs">data)</text>
<text x="412.65" y="28.50" font-size="14.6" textLength="44.06" lengthAdjust="spacingAndGlyphs">Begin:</text>
<text x="463.68" y="28.50" font-size="14.6" textLength="35.44" lengthAdjust="spacingAndGlyphs">2011</text>
<text x="507.74" y="28.50" font-size="14.6" textLength="27.89" lengthAdjust="spacingAndGlyphs">Sep</text>
<text x="541.95" y="28.50" font-size="14.6" textLength="18.63" lengthAdjust="spacingAndGlyphs">24</text>
<text x="568.36" y="28.50" font-size="14.6" textLength="36.77" lengthAdjust="spacingAndGlyphs">0000</text>
<text x="611.83" y="28.50" font-size="14.6" textLength="28.34" lengthAdjust="spacingAndGlyphs">UTC</text>
<text x="-0.32" y="474.50" font-size="14.8" textLength="59.73" lengthAdjust="spacingAndGlyphs">Updated</text>
<text x="67.08" y="474.50" font-size="14.8" textLength="36.23" lengthAdjust="spacingAndGlyphs">2011</text>
<text x="110.80" y="474.50" font-size="14.8" textLength="26.75" lengthAdjust="spacingAndGlyphs">Sep</text>
<text x="145.15" y="474.50" font-size="14.8" textLength="18.73" lengthAdjust="spacingAndGlyphs">26</text>
<text x="170.48" y="474.50" font-size="14.8" textLength="64.91" lengthAdjust="spacingAndGlyphs">02:21:02</text>
<text x="243.41" y="474.50" font-size="14.8" textLength="27.14" lengthAdjust="spacingAndGlyphs">UTC</text>
<text x="424.16" y="474.50" font-size="14.8" textLength="87.45" lengthAdjust="spacingAndGlyphs">NOAA/SWPC</text>
<text x="517.38" y="474.50" font-size="14.8" textLength="60.35" lengthAdjust="spacingAndGlyphs">Boulder,</text>
<text x="584.27" y="474.50" font-size="14.8" textLength="20.56" lengthAdjust="spacingAndGlyphs">CO</text>
<text x="612.35" y="474.50" font-size="14.8" textLength="27.48" lengthAdjust="spacingAndGlyphs">USA</text>
<text x="47.76" y="437.75" font-size="13.5" textLength="25.18" lengthAdjust="spacingAndGlyphs">Sep</text>
<text x="79.25" y="437.75" font-size="13.5" textLength="17.30" lengthAdjust="spacingAndGlyphs">24</text>
<text x="215.76" y="437.75" font-size="13.5" textLength="25.18" lengthAdjust="spacingAndGlyphs">Sep</text>
<text x="247.22" y="437.75" font-size="13.5" textLength="17.88" lengthAdjust="spacingAndGlyphs">25</text>
<text x="383.76" y="437.75" font-size="13.5" textLength="25.18" lengthAdjust="spacingAndGlyphs">Sep</text>
<text x="415.25" y="437.75" font-size="13.5" textLength="17.30" lengthAdjust="spacingAndGlyphs">26</text>
<text x="551.76" y="437.75" font-size="13.5" textLength="25.18" lengthAdjust="spacingAndGlyphs">Sep</text>
<text x="583.22" y="437.75" font-size="13.5" textLength="17.88" lengthAdjust="spacingAndGlyphs">27</text>
<text x="275.29" y="453.75" font-size="13.5" textLength="61.01" lengthAdjust="spacingAndGlyphs">Universal</text>
<text x="342.20" y="453.75" font-size="13.5" textLength="29.51" lengthAdjust="spacingAndGlyphs">Time</text>
<text x="43.25" y="45.00" font-size="16" textLength="20.30" lengthAdjust="spacingAndGlyphs">10</text>
<text x="62.67" y="38.35" font-size="7" textLength="5.96" lengthAdjust="spacingAndGlyphs">4</text>
<text x="43.25" y="105.10" font-size="16" textLength="20.30" lengthAdjust="spacingAndGlyphs">10</text>
<text x="62.95" y="97.45" font-size="7" textLength="4.53" lengthAdjust="spacingAndGlyphs">3</text>
<text x="43.25" y="169.10" font-size="16" textLength="20.30" lengthAdjust="spacingAndGlyphs">10</text>
<text x="62.92" y="161.45" font-size="7" textLength="5.01" lengthAdjust="spacingAndGlyphs">2</text>
<text x="43.25" y="233.10" font-size="16" textLength="20.30" lengthAdjust="spacingAndGlyphs">10</text>
<text x="63.32" y="225.45" font-size="7">1</text>
<text x="43.25" y="297.10" font-size="16" textLength="20.30" lengthAdjust="spacingAndGlyphs">10</text>
<text x="62.66" y="289.05" font-size="7" textLength="4.85" lengthAdjust="spacingAndGlyphs">0</text>
<text x="37.30" y="361.40" font-size="16">10</text>
<text x="57.55" y="353.75" font-size="7" textLength="9.27" lengthAdjust="spacingAndGlyphs">−1</text>
<text x="37.30" y="419.20" font-size="16">10</text>
<text x="57.49" y="411.45" font-size="7" textLength="10.50" lengthAdjust="spacingAndGlyphs">−2</text>
<text transform="translate(20.25,335.66) rotate(-90)" font-size="17.3" textLength="78.87" lengthAdjust="spacingAndGlyphs">Particles</text>
<text transform="translate(20.25,250.40) rotate(-90)" font-size="17.3" textLength="31.61" lengthAdjust="spacingAndGlyphs">cm</text>
<text transform="translate(20.25,206.49) rotate(-90)" font-size="17.3" textLength="7.99" lengthAdjust="spacingAndGlyphs">s</text>
<text transform="translate(20.25,184.73) rotate(-90)" font-size="17.3" textLength="15.85" lengthAdjust="spacingAndGlyphs">sr</text>
<text transform="translate(10.50,218.69) rotate(-90)" font-size="8.5" textLength="11.51" lengthAdjust="spacingAndGlyphs">−2</text>
<text transform="translate(10.50,196.19) rotate(-90)" font-size="8.5" textLength="9.91" lengthAdjust="spacingAndGlyphs">−1</text>
<text transform="translate(10.50,167.58) rotate(-90)" font-size="8.5" textLength="11.39" lengthAdjust="spacingAndGlyphs">−1</text>
<text transform="translate(621.50,144.02) rotate(-90)" font-size="17.3" textLength="33.48" lengthAdjust="spacingAndGlyphs">MeV</text>
<text transform="translate(621.50,215.69) rotate(-90)" font-size="17.3" textLength="49.09" lengthAdjust="spacingAndGlyphs" style="fill:#d03c14;stroke:#d03c14">&gt;=10</text>
<text transform="translate(621.50,311.69) rotate(-90)" font-size="17.3" textLength="49.09" lengthAdjust="spacingAndGlyphs" style="fill:#2a12b8;stroke:#2a12b8">&gt;=50</text>
<text transform="translate(621.50,407.73) rotate(-90)" font-size="17.3" textLength="61.16" lengthAdjust="spacingAndGlyphs" style="fill:#28d808;stroke:#28d808">&gt;=100</text>
</svg>
</body></html>
